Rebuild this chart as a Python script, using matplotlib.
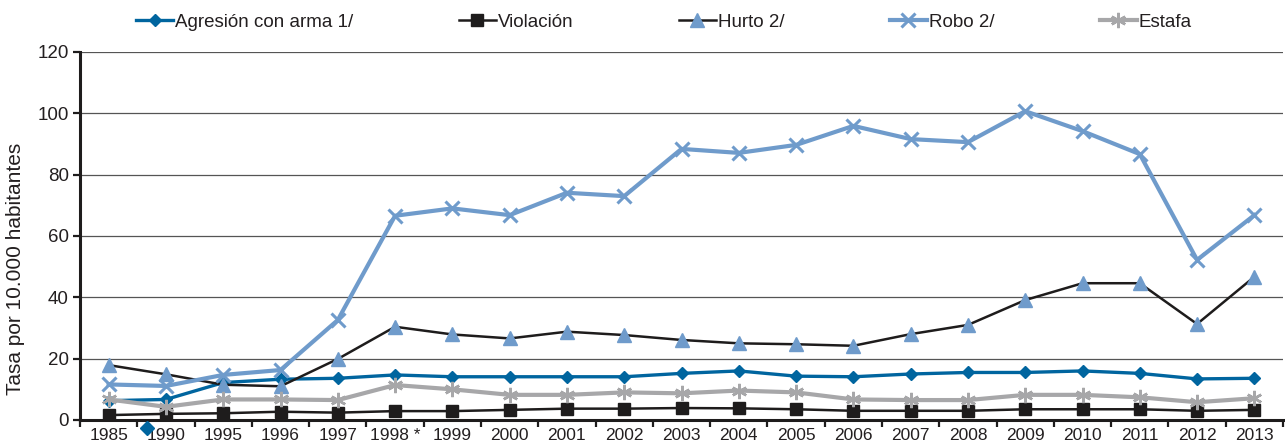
import numpy as np
import matplotlib
matplotlib.use('Agg')
import matplotlib.pyplot as plt
from matplotlib.ticker import MultipleLocator, FixedLocator

##################
# Data
##################

years = ['1985', '1990', '1995', '1996', '1997', '1998 *', '1999', '2000', '2001', '2002',
         '2003', '2004', '2005', '2006', '2007', '2008', '2009', '2010', '2011', '2012', '2013']

agresion = [6.3, 6.7, 12.2, 13.3, 13.6, 14.7, 14.1, 14.1, 14.1, 14.1,
            15.2, 16.0, 14.3, 14.1, 15.0, 15.5, 15.5, 16.0, 15.2, 13.4, 13.6]
violacion = [1.6, 2.0, 2.2, 2.7, 2.4, 2.9, 2.9, 3.3, 3.7, 3.7,
             3.9, 3.8, 3.5, 3.0, 3.0, 3.0, 3.5, 3.5, 3.5, 3.0, 3.3]
hurto = [17.9, 14.9, 11.5, 11.0, 19.9, 30.4, 27.9, 26.6, 28.8, 27.7,
         26.1, 25.0, 24.7, 24.2, 28.0, 31.0, 39.1, 44.6, 44.6, 31.3, 46.7]
robo = [11.6, 11.1, 14.7, 16.3, 32.6, 66.6, 69.0, 66.8, 74.1, 73.0,
        88.4, 87.1, 89.7, 95.9, 91.6, 90.6, 100.7, 94.2, 86.7, 52.2, 66.8]
estafa = [6.7, 4.3, 6.7, 6.7, 6.5, 11.4, 10.0, 8.2, 8.2, 9.0,
          8.7, 9.6, 9.0, 6.7, 6.5, 6.5, 8.2, 8.2, 7.4, 5.8, 7.1]

# stray point below the axis in the original chart
stray_x = [0.67]
stray_y = [-2.7]

##################
# Style
##################

plt.rcParams['font.family'] = ['Liberation Sans Narrow', 'Liberation Sans', 'DejaVu Sans']
textcolor = '#231f20'
dark_blue = '#00659f'
light_blue = '#6f9bcb'
gray = '#a7a7a9'
black = '#1e1c1c'

fig = plt.figure(figsize=(12.85, 4.45), dpi=100, facecolor='white')
ax = fig.add_axes([80 / 1285, 1 - 420 / 445, 1203 / 1285, 368 / 445])

x = np.arange(len(years))

##################
# Lines
##################

ax.plot(x, agresion, color=dark_blue, lw=2.4, marker='D', ms=6.5,
        label='Agresión con arma 1/', zorder=3)
ax.plot(x, violacion, color=black, lw=1.8, marker='s', ms=8,
        label='Violación', zorder=3)
ax.plot(x, hurto, color=black, lw=1.8, marker='^', ms=10,
        markerfacecolor=light_blue, markeredgecolor=light_blue,
        label='Hurto 2/', zorder=3)
ax.plot(x, robo, color=light_blue, lw=3, marker='x', ms=10, mew=2.2,
        label='Robo 2/', zorder=3)
ax.plot(x, estafa, color=gray, lw=3, marker=(6, 2, 0), ms=11, mew=1.8,
        label='Estafa', zorder=3)
ax.plot(stray_x, stray_y, linestyle='none', marker='D', ms=7, color=dark_blue,
        clip_on=False, zorder=3)

##################
# Axes
##################

ax.set_xlim(-0.5, len(years) - 0.5)
ax.set_ylim(0, 120)
ax.yaxis.set_major_locator(MultipleLocator(20))
ax.grid(axis='y', color='#555555', lw=0.9, zorder=0)
ax.set_axisbelow(True)

ax.set_xticks(x)
ax.set_xticklabels(years, fontsize=12.5, color=textcolor)
ax.xaxis.set_minor_locator(FixedLocator(np.arange(-0.5, len(years), 1)))
ax.tick_params(axis='x', which='major', length=0, pad=6)
ax.tick_params(axis='x', which='minor', length=5, width=1.6, color=black)
ax.tick_params(axis='y', length=5, width=1.6, color=black, labelsize=13.5,
               labelcolor=textcolor, pad=3)

for side in ['top', 'right']:
    ax.spines[side].set_visible(False)
for side in ['left', 'bottom']:
    ax.spines[side].set_linewidth(2.2)
    ax.spines[side].set_color(black)

ax.set_ylabel('Tasa por 10.000 habitantes', fontsize=15, color=textcolor)
ax.yaxis.set_label_coords(-0.046, 0.41)

##################
# Legend
##################

fig.legend(loc='center', bbox_to_anchor=(664 / 1285, 1 - 22 / 445), ncol=5,
           frameon=False, fontsize=13.5, handlelength=2.0, handletextpad=0.1,
           columnspacing=5.6, labelcolor=textcolor)

fig.savefig('out.png', dpi=100, facecolor='white')
